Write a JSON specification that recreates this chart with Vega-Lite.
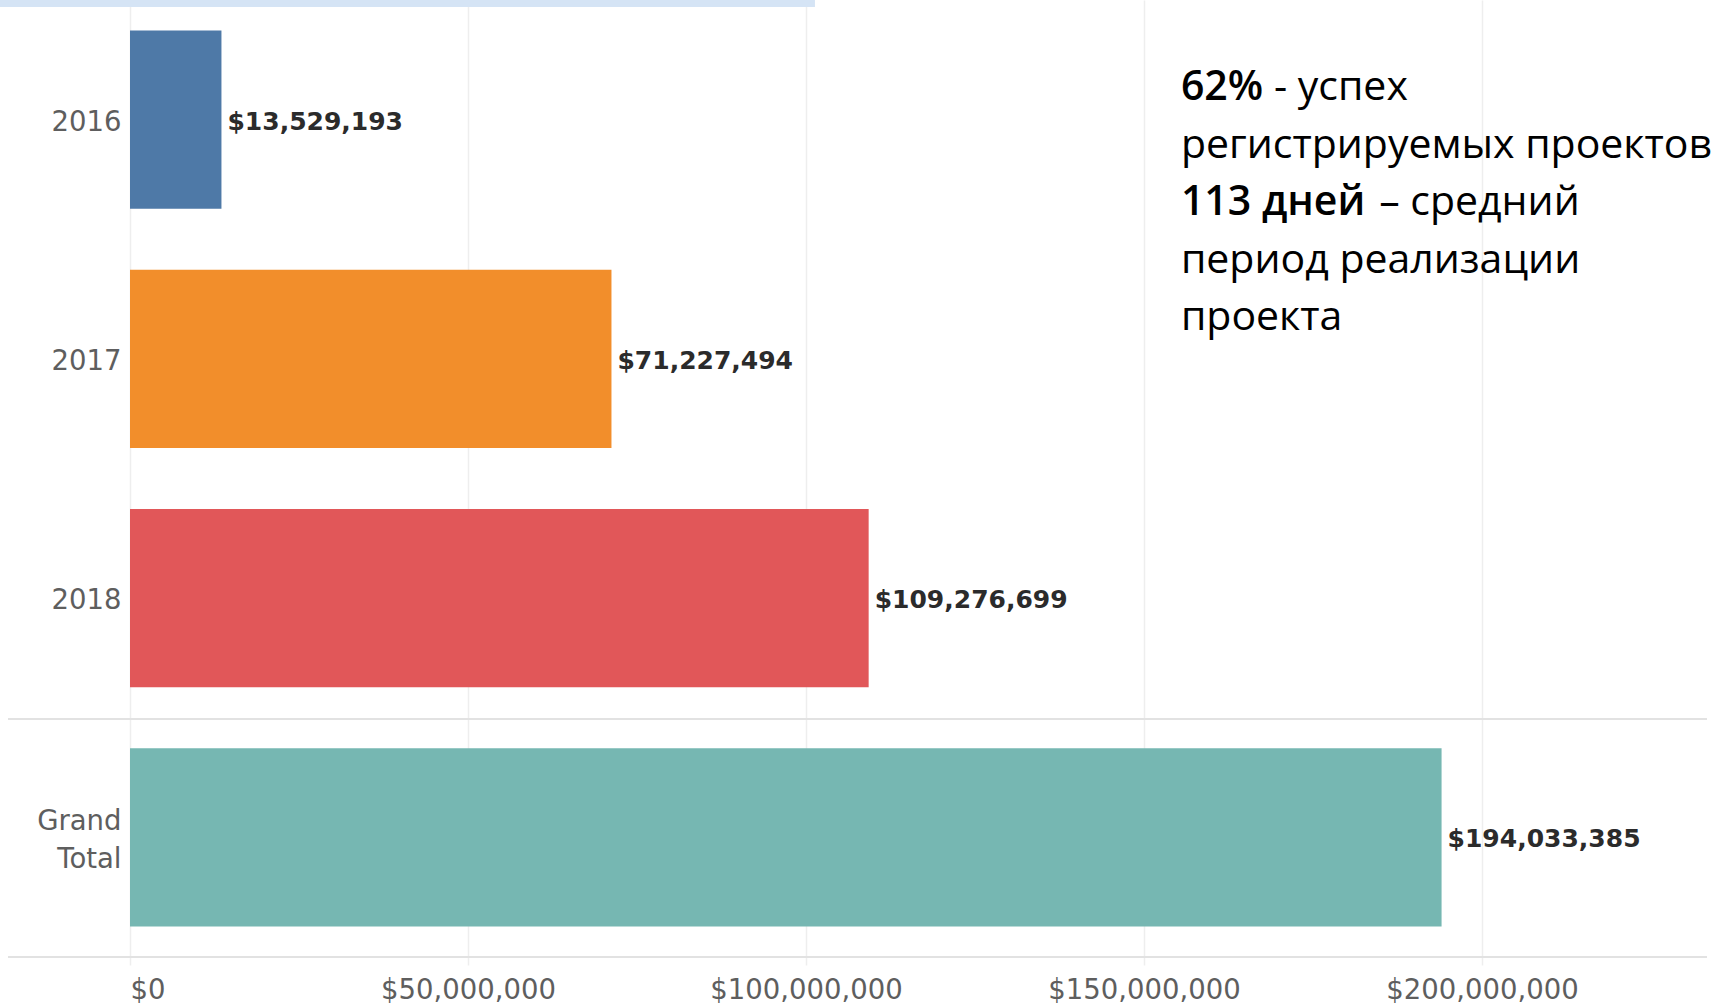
{
  "$schema": "https://vega.github.io/schema/vega-lite/v6.json",
  "width": 1577,
  "height": 957,
  "autosize": {"type": "none"},
  "padding": {"left": 130, "top": 0, "right": 4, "bottom": 49},
  "background": "white",
  "config": {"view": {"stroke": null}},
  "datasets": {
    "totals": [
      {"year": "2016", "value": 13529193},
      {"year": "2017", "value": 71227494},
      {"year": "2018", "value": 109276699},
      {"year": "Grand Total", "value": 194033385}
    ],
    "notes": [
      {"line": 1, "bold": "62%", "text": "- успех"},
      {"line": 2, "bold": "", "text": "регистрируемых проектов"},
      {"line": 3, "bold": "113 дней", "text": "– средний"},
      {"line": 4, "bold": "", "text": "период реализации"},
      {"line": 5, "bold": "", "text": "проекта"}
    ]
  },
  "resolve": {"scale": {"y": "independent"}},
  "layer": [
    {
      "layer": [
        {
          "data": {"name": "totals"},
          "mark": {"type": "bar", "cornerRadius": 0},
          "encoding": {
            "y": {
              "field": "year", "type": "nominal",
              "scale": {"domain": ["2016", "2017", "2018", "Grand Total"], "paddingInner": 0.255, "paddingOuter": 0.1275},
              "axis": {
                "title": null, "ticks": false, "tickSize": 0, "domain": false, "grid": false,
                "labelPadding": 9, "labelFont": "DejaVu Sans", "labelFontSize": 27.5, "labelColor": "#5e5e5e",
                "labelLineHeight": 38,
                "labelOffset": {"condition": {"test": "datum.value == 'Grand Total'", "value": -15}, "value": 3},
                "labelExpr": "datum.value == 'Grand Total' ? ['Grand', 'Total'] : datum.value"
              }
            },
            "x": {
              "field": "value", "type": "quantitative",
              "scale": {"domain": [0, 233300000], "nice": false, "zero": true},
              "axis": {
                "title": null, "format": "$,d", "values": [0, 50000000, 100000000, 150000000, 200000000],
                "grid": true, "gridColor": "#eeeeee", "gridWidth": 1.5,
                "domain": false, "ticks": true, "tickColor": "#eeeeee", "tickSize": 8, "tickWidth": 1.5,
                "labelPadding": 11, "labelFlush": true, "labelLimit": 0, "labelFont": "DejaVu Sans", "labelFontSize": 27.5, "labelColor": "#5e5e5e"
              }
            },
            "color": {
              "field": "year", "type": "nominal",
              "scale": {"domain": ["2016", "2017", "2018", "Grand Total"], "range": ["#4e79a7", "#f28e2b", "#e15759", "#76b7b2"]},
              "legend": null
            }
          }
        },
        {
          "data": {"name": "totals"},
          "mark": {"type": "text", "align": "left", "baseline": "middle", "dx": 6, "dy": 2, "font": "DejaVu Sans", "fontWeight": "bold", "fontSize": 25, "color": "#2b2b2b"},
          "encoding": {
            "y": {"field": "year", "type": "nominal"},
            "x": {"field": "value", "type": "quantitative"},
            "text": {"field": "value", "type": "quantitative", "format": "$,d"}
          }
        },
        {
          "data": {"values": [{"year": "Grand Total"}]},
          "mark": {"type": "rule", "color": "#e2e2e2", "strokeWidth": 2},
          "encoding": {
            "y": {"field": "year", "type": "nominal", "bandPosition": -0.1641},
            "x": {"datum": -18050000, "type": "quantitative"},
            "x2": {"datum": 233300000}
          }
        },
        {
          "data": {"values": [{"year": "Grand Total"}]},
          "mark": {"type": "rule", "color": "#e2e2e2", "strokeWidth": 2},
          "encoding": {
            "y": {"field": "year", "type": "nominal", "bandPosition": 1.1711},
            "x": {"datum": -18050000, "type": "quantitative"},
            "x2": {"datum": 233300000}
          }
        }
      ]
    },
    {
      "layer": [
        {
          "data": {"values": [{"strip": "top"}]},
          "mark": {"type": "rect", "color": "#d5e4f5"},
          "encoding": {
            "x": {"datum": -19230000, "type": "quantitative"},
            "x2": {"datum": 101330000},
            "y": {"datum": -0.736, "type": "quantitative", "scale": {"domain": [-0.736, 15.878], "reverse": true, "nice": false, "zero": false}, "axis": null},
            "y2": {"datum": -0.6145}
          }
        },
        {
          "data": {"name": "notes"},
          "transform": [{"filter": "datum.bold != ''"}],
          "mark": {"type": "text", "align": "left", "baseline": "alphabetic", "font": "Open Sans", "fontWeight": 600, "fontSize": 41, "color": "#000000"},
          "encoding": {
            "x": {"datum": 155470000, "type": "quantitative"},
            "y": {"field": "line", "type": "quantitative", "axis": null},
            "text": {"field": "bold"}
          }
        },
        {
          "data": {"name": "notes"},
          "transform": [{"filter": "datum.bold == ''"}],
          "mark": {"type": "text", "align": "left", "baseline": "alphabetic", "font": "Open Sans", "fontSize": 41, "color": "#000000"},
          "encoding": {
            "x": {"datum": 155470000, "type": "quantitative"},
            "y": {"field": "line", "type": "quantitative", "axis": null},
            "text": {"field": "text"}
          }
        },
        {
          "data": {"name": "notes"},
          "transform": [{"filter": "datum.line == 1"}],
          "mark": {"type": "text", "align": "left", "baseline": "alphabetic", "font": "Open Sans", "fontSize": 41, "color": "#000000"},
          "encoding": {
            "x": {"datum": 169230000, "type": "quantitative"},
            "y": {"field": "line", "type": "quantitative", "axis": null},
            "text": {"field": "text"}
          }
        },
        {
          "data": {"name": "notes"},
          "transform": [{"filter": "datum.line == 3"}],
          "mark": {"type": "text", "align": "left", "baseline": "alphabetic", "font": "Open Sans", "fontSize": 41, "color": "#000000"},
          "encoding": {
            "x": {"datum": 184800000, "type": "quantitative"},
            "y": {"field": "line", "type": "quantitative", "axis": null},
            "text": {"field": "text"}
          }
        }
      ]
    }
  ]
}
